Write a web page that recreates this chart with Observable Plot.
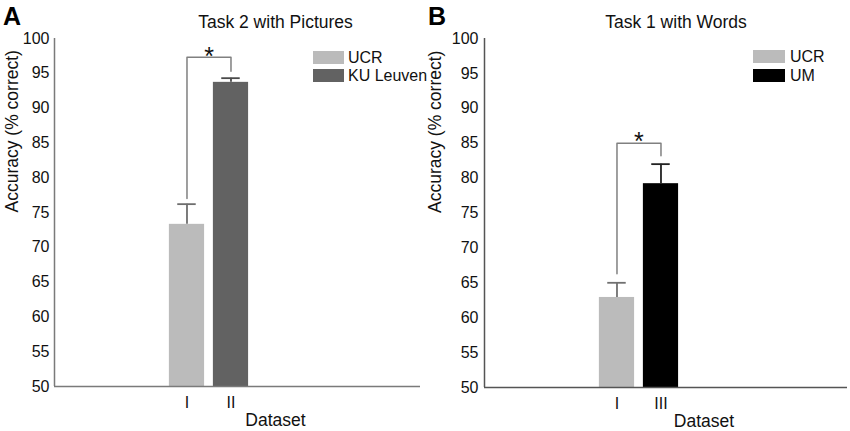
<!DOCTYPE html>
<html><head><meta charset="utf-8">
<script src="https://cdn.jsdelivr.net/npm/d3@7"></script>
<script src="https://cdn.jsdelivr.net/npm/@observablehq/plot@0.6"></script>
<style>
body{margin:0;background:#fff;font-family:"Liberation Sans",Arial,Helvetica,sans-serif;}
#wrap{position:relative;width:850px;height:431px;overflow:hidden;background:#fff}
.panel{position:absolute;top:0;width:425px;height:431px}
.panel svg{position:absolute;left:0;top:0}
.panel svg g[aria-label="y-axis tick label"] text,
.panel svg g[aria-label="x-axis tick label"] text{font-size:16px;fill:#111}
.letter{position:absolute;font-weight:bold;font-size:25px;line-height:1;color:#000}
.title{position:absolute;font-size:17.5px;line-height:1;white-space:nowrap;transform:translateX(-50%);color:#111}
.leg{position:absolute;font-size:16px;line-height:1;white-space:nowrap;color:#111}
.sw{position:absolute}
</style></head><body><div id="wrap"></div>
<script>
// ---- data ----
const panelLetters = ["A", "B"];
const panelTitles = ["Task 2 with Pictures", "Task 1 with Words"];
const yLabel = "Accuracy (% correct)";
const xLabel = "Dataset";
const yTicks = [50, 55, 60, 65, 70, 75, 80, 85, 90, 95, 100];

const datasetsA = ["I", "II"];
const groupsA = ["UCR", "KU Leuven"];
const meansA = [73.3, 93.7];
const errorsA = [2.9, 0.6];
const bracketA = [97.3, 77.0, 95.3];   // top, left end, right end
const starA = "*";

const datasetsB = ["I", "III"];
const groupsB = ["UCR", "UM"];
const meansB = [62.9, 79.2];
const errorsB = [2.1, 2.8];
const bracketB = [85.0, 66.3, 83.2];
const starB = "*";

// ---- layout / style config ----
const FONT = '"Liberation Sans", Arial, Helvetica, sans-serif';
const panels = [
  {left: 0, letter: panelLetters[0], title: panelTitles[0], datasets: datasetsA, groups: groupsA,
   means: meansA, errors: errorsA, bracket: bracketA, star: starA,
   colors: ["#bbbbbb", "#626262"], errColors: ["#6e6e6e", "#4a4a4a"], axisColor: "#7a7a7a",
   ml: 54, mr: 5, mb: 45, xmin: -2.011, xmax: 6.307, ylabDx: -42, starDy: 0,
   titleX: 275.5, swX: 313, swW: 31, legX: 348, swY: [51, 69]},
  {left: 425, letter: panelLetters[1], title: panelTitles[1], datasets: datasetsB, groups: groupsB,
   means: meansB, errors: errorsB, bracket: bracketB, star: starB,
   colors: ["#bbbbbb", "#000000"], errColors: ["#707070", "#222222"], axisColor: "#555555",
   ml: 59, mr: 3, mb: 44, xmin: -2.011, xmax: 6.239, ylabDx: -49, starDy: -1,
   titleX: 251, swX: 328, swW: 32, legX: 365, swY: [50, 69]}
];

const wrap = document.getElementById("wrap");

for (const cfg of panels) {
  const data = cfg.datasets.map((d, i) => ({
    pos: i + 1, label: d, group: cfg.groups[i], mean: cfg.means[i], err: cfg.errors[i],
    errColor: cfg.errColors[i]
  }));
  const [top, lEnd, rEnd] = cfg.bracket;
  const br = [{x: 1, y: lEnd}, {x: 1, y: top}, {x: 2, y: top}, {x: 2, y: rEnd}];

  const chart = Plot.plot({
    width: 425, height: 431,
    marginLeft: cfg.ml, marginRight: cfg.mr, marginTop: 38, marginBottom: cfg.mb,
    style: {fontFamily: FONT, fontSize: "16px", color: "#111", background: "transparent", overflow: "visible"},
    x: {domain: [cfg.xmin, cfg.xmax], axis: null},
    y: {domain: [50, 100], axis: null},
    color: {domain: cfg.groups, range: cfg.colors},
    marks: [
      Plot.rectY(data, {x1: d => d.pos - 0.4, x2: d => d.pos + 0.4, y1: 50, y2: "mean", fill: "group"}),
      Plot.ruleX(data, {x: "pos", y1: "mean", y2: d => d.mean + d.err, stroke: d => d.errColor, strokeWidth: 1.8}),
      Plot.ruleY(data, {y: d => d.mean + d.err, x1: d => d.pos - 0.21, x2: d => d.pos + 0.21, stroke: d => d.errColor, strokeWidth: 1.8}),
      Plot.line(br, {x: "x", y: "y", stroke: "#808080", strokeWidth: 1.5}),
      Plot.text([cfg.star], {x: 1.5, y: top, dy: cfg.starDy, fontSize: 25, fill: "#111"}),
      Plot.ruleX([cfg.xmin], {stroke: cfg.axisColor, strokeWidth: 1.5}),
      Plot.ruleY([50], {stroke: cfg.axisColor, strokeWidth: 1.5}),
      Plot.axisY({ticks: yTicks, tickSize: 0, tickPadding: cfg.ml === 54 ? 5 : 6, label: null, fontSize: 16, fill: "#111"}),
      Plot.axisX(data.map(d => d.pos), {tickSize: 0, tickPadding: 10, tickFormat: p => cfg.datasets[p - 1], label: null, fontSize: 16, fill: "#111"}),
      Plot.text([xLabel], {frameAnchor: "bottom", dx: 38, dy: 39, fontSize: 17.5, fill: "#111"}),
      Plot.text([yLabel], {frameAnchor: "left", rotate: -90, dx: cfg.ylabDx, fontSize: 17.5, fill: "#111"})
    ]
  });

  const p = document.createElement("div");
  p.className = "panel";
  p.style.left = cfg.left + "px";
  p.appendChild(chart);

  const L = document.createElement("div");
  L.className = "letter"; L.textContent = cfg.letter;
  L.style.left = "3px"; L.style.top = "4px";
  p.appendChild(L);

  const T = document.createElement("div");
  T.className = "title"; T.textContent = cfg.title;
  T.style.left = cfg.titleX + "px"; T.style.top = "14px";
  p.appendChild(T);

  cfg.groups.forEach((g, i) => {
    const s = document.createElement("div");
    s.className = "sw";
    s.style.left = cfg.swX + "px"; s.style.top = cfg.swY[i] + "px";
    s.style.width = cfg.swW + "px"; s.style.height = "13px";
    s.style.background = cfg.colors[i];
    p.appendChild(s);
    const t = document.createElement("div");
    t.className = "leg"; t.textContent = g;
    t.style.left = cfg.legX + "px"; t.style.top = (cfg.swY[i] - 1.5) + "px";
    p.appendChild(t);
  });

  wrap.appendChild(p);
}
</script></body></html>
